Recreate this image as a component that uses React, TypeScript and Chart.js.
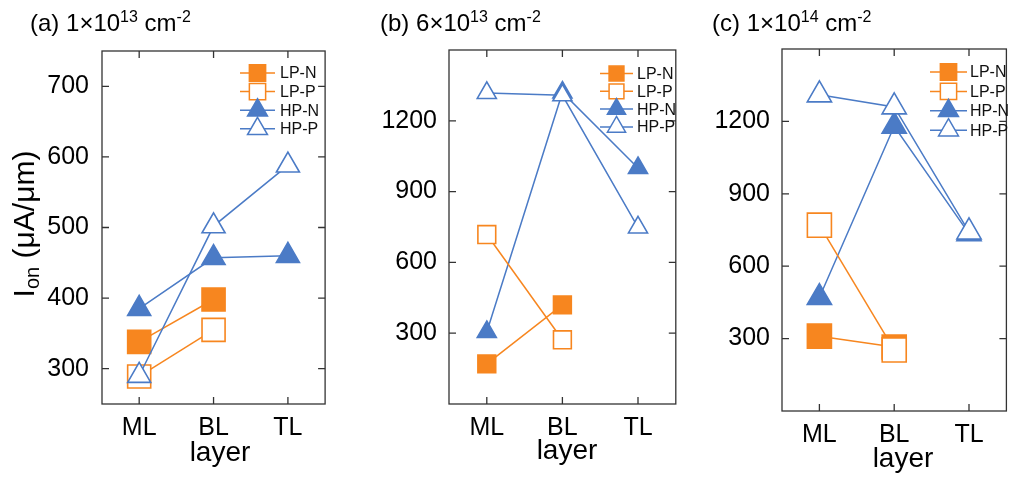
import React, { useEffect, useRef } from 'react';
import { Chart, registerables } from 'chart.js';
import { drawPoint } from 'chart.js/helpers';

Chart.register(...registerables);

// ---------- data ----------
const LAYERS = ['ML', 'BL', 'TL'];
const SERIES = ['LP-N', 'LP-P', 'HP-N', 'HP-P'];

// (a) 1×10^13 cm^-2
const A_LP_N = [338, 398];
const A_LP_P = [289, 355];
const A_HP_N = [385, 457, 460];
const A_HP_P = [290, 502, 588];
const A_TICKS = [300, 400, 500, 600, 700];
const A_RANGE = [250, 750];

// (b) 6×10^13 cm^-2
const B_LP_N = [170, 420];
const B_LP_P = [718, 272];
const B_HP_N = [305, 1320, 1000];
const B_HP_P = [1318, 1308, 748];

// (c) 1×10^14 cm^-2
const C_LP_N = [310, 265];
const C_LP_P = [770, 253];
const C_HP_N = [470, 1180, 735];
const C_HP_P = [1310, 1260, 742];

const BC_TICKS = [300, 600, 900, 1200];
const BC_RANGE = [0, 1500];

// ---------- styles ----------
const FONT = '"Liberation Sans", Arial, Helvetica, sans-serif';
const ORANGE = '#F7861F';
const BLUE = '#4B7BC6';
const FRAME = '#333333';

const STYLE: Record<string, any> = {
  'LP-N': { color: ORANGE, shape: 'rect', filled: true, order: 3 },
  'LP-P': { color: ORANGE, shape: 'rect', filled: false, order: 1 },
  'HP-N': { color: BLUE, shape: 'triangle', filled: true, order: 2 },
  'HP-P': { color: BLUE, shape: 'triangle', filled: false, order: 0 },
};

const PANELS = [
  {
    key: 'a',
    values: [A_LP_N, A_LP_P, A_HP_N, A_HP_P],
    ticks: A_TICKS,
    range: A_RANGE,
    box: { l: 102, t: 43, r: 331, b: 404 },
    rectR: 16.3,
    triR: 13.3,
    yPad: 5,
    legend: { dx: 138, dy0: 22, dy: 18.6, len: 35, gap: 5, rectR: 11.5, triR: 11.5 },
  },
  {
    key: 'b',
    values: [B_LP_N, B_LP_P, B_HP_N, B_HP_P],
    ticks: BC_TICKS,
    range: BC_RANGE,
    box: { l: 449, t: 43, r: 678, b: 404 },
    rectR: 12.6,
    triR: 11,
    yPad: 4,
    legend: { dx: 151, dy0: 23.5, dy: 17.8, len: 33, gap: 4, rectR: 10.5, triR: 10.5 },
  },
  {
    key: 'c',
    values: [C_LP_N, C_LP_P, C_HP_N, C_HP_P],
    ticks: BC_TICKS,
    range: BC_RANGE,
    box: { l: 782, t: 42, r: 1013, b: 411 },
    rectR: 17,
    triR: 14,
    yPad: 4,
    legend: { dx: 148, dy0: 23, dy: 19.4, len: 37, gap: 3, rectR: 11.5, triR: 11.5 },
  },
];

const PAD_L = 75;
const PAD_T = 12;
const PAD_R = 12;
const PAD_B = 50;

const framePlugin = {
  id: 'frame',
  afterDraw(chart: any) {
    const { ctx, chartArea } = chart;
    const { left, top, right, bottom } = chartArea;
    const tl = 7;
    ctx.save();
    ctx.strokeStyle = FRAME;
    ctx.lineWidth = 1.3;
    ctx.strokeRect(left, top, right - left, bottom - top);
    ctx.beginPath();
    const xs = chart.scales.x;
    xs.ticks.forEach((_: any, i: number) => {
      const px = xs.getPixelForTick(i);
      ctx.moveTo(px, bottom);
      ctx.lineTo(px, bottom - tl);
      ctx.moveTo(px, top);
      ctx.lineTo(px, top + tl);
    });
    const ys = chart.scales.y;
    ys.ticks.forEach((t: any) => {
      const py = ys.getPixelForValue(t.value);
      ctx.moveTo(left, py);
      ctx.lineTo(left + tl, py);
      ctx.moveTo(right, py);
      ctx.lineTo(right - tl, py);
    });
    ctx.stroke();
    ctx.restore();
  },
};

const legendPlugin = {
  id: 'seriesLegend',
  afterDraw(chart: any, _args: any, opts: any) {
    const { ctx, chartArea } = chart;
    const x0 = chartArea.left + opts.dx;
    SERIES.forEach((name, i) => {
      const st = STYLE[name];
      const y = chartArea.top + opts.dy0 + i * opts.dy;
      ctx.save();
      ctx.strokeStyle = st.color;
      ctx.lineWidth = 1.5;
      ctx.beginPath();
      ctx.moveTo(x0, y);
      ctx.lineTo(x0 + opts.len, y);
      ctx.stroke();
      ctx.fillStyle = st.filled ? st.color : '#ffffff';
      ctx.strokeStyle = st.color;
      ctx.lineWidth = 1.5;
      drawPoint(
        ctx,
        {
          pointStyle: st.shape,
          radius: st.shape === 'rect' ? opts.rectR : opts.triR,
          rotation: 0,
          borderWidth: 1.5,
        } as any,
        x0 + opts.len / 2,
        y
      );
      ctx.fillStyle = '#111111';
      ctx.font = `16px ${FONT}`;
      ctx.textAlign = 'left';
      ctx.textBaseline = 'middle';
      ctx.fillText(name, x0 + opts.len + opts.gap, y + 1);
      ctx.restore();
    });
  },
};

function Panel({ spec }: { spec: any }) {
  const ref = useRef<HTMLCanvasElement>(null);
  const { box } = spec;
  const w = box.r - box.l + PAD_L + PAD_R;
  const h = box.b - box.t + PAD_T + PAD_B;

  useEffect(() => {
    if (!ref.current) return;
    const datasets = SERIES.map((name, i) => {
      const st = STYLE[name];
      return {
        label: name,
        data: spec.values[i],
        order: st.order,
        borderColor: st.color,
        backgroundColor: st.color,
        borderWidth: 1.5,
        tension: 0,
        fill: false,
        pointStyle: st.shape,
        pointRadius: st.shape === 'rect' ? spec.rectR : spec.triR,
        pointBackgroundColor: st.filled ? st.color : '#ffffff',
        pointBorderColor: st.color,
        pointBorderWidth: 1.6,
        clip: false,
      };
    });
    const chart = new Chart(ref.current, {
      type: 'line',
      data: { labels: LAYERS, datasets },
      options: {
        responsive: false,
        maintainAspectRatio: false,
        animation: false,
        events: [],
        layout: { padding: { left: 0, top: PAD_T, right: PAD_R, bottom: 0 } },
        plugins: {
          legend: { display: false },
          tooltip: { enabled: false },
          seriesLegend: spec.legend,
        } as any,
        scales: {
          x: {
            type: 'category',
            offset: true,
            grid: { display: false },
            border: { display: false },
            ticks: {
              font: { family: FONT, size: 25 },
              color: '#000',
              padding: 1,
              maxRotation: 0,
              autoSkip: false,
            },
            afterFit: (s: any) => {
              s.height = PAD_B;
            },
          },
          y: {
            type: 'linear',
            min: spec.range[0],
            max: spec.range[1],
            grid: { display: false },
            border: { display: false },
            ticks: {
              font: { family: FONT, size: 25 },
              color: '#000',
              padding: spec.yPad,
              callback: (v: any) => String(v),
            },
            afterBuildTicks: (s: any) => {
              s.ticks = spec.ticks.map((v: number) => ({ value: v }));
            },
            afterFit: (s: any) => {
              s.width = PAD_L;
            },
          },
        } as any,
      },
      plugins: [framePlugin, legendPlugin],
    } as any);
    return () => chart.destroy();
  }, []);

  return (
    <canvas
      ref={ref}
      width={w}
      height={h}
      style={{ position: 'absolute', left: box.l - PAD_L, top: box.t - PAD_T, width: w, height: h }}
    />
  );
}

const supStyle: React.CSSProperties = { fontSize: 16, lineHeight: 0, verticalAlign: '9px' };

function Title({ left, label, mant, exp }: { left: number; label: string; mant: string; exp: string }) {
  return (
    <div
      style={{
        position: 'absolute',
        left,
        top: 11,
        fontSize: 24,
        lineHeight: '24px',
        fontFamily: FONT,
        whiteSpace: 'nowrap',
        color: '#000',
      }}
    >
      ({label}) {mant}×10<sup style={supStyle}>{exp}</sup> cm<sup style={supStyle}>-2</sup>
    </div>
  );
}

function XTitle({ cx, top }: { cx: number; top: number }) {
  return (
    <div
      style={{
        position: 'absolute',
        left: cx - 100,
        top,
        width: 200,
        textAlign: 'center',
        fontSize: 28,
        lineHeight: '28px',
        fontFamily: FONT,
        color: '#000',
      }}
    >
      layer
    </div>
  );
}

export default function App() {
  const F = 30;
  return (
    <div
      style={{
        position: 'absolute',
        left: 0,
        top: 0,
        width: 1011,
        height: 477,
        overflow: 'hidden',
        background: '#fff',
      }}
    >
      {PANELS.map((p) => (
        <Panel key={p.key} spec={p} />
      ))}
      <Title left={30} label="a" mant="1" exp="13" />
      <Title left={380} label="b" mant="6" exp="13" />
      <Title left={712} label="c" mant="1" exp="14" />
      <XTitle cx={220} top={438} />
      <XTitle cx={567} top={436} />
      <XTitle cx={903} top={444} />
      <div
        style={{
          position: 'absolute',
          left: 23.5 - 100,
          top: 223.5 - F / 2,
          width: 200,
          height: F,
          lineHeight: `${F}px`,
          fontSize: F,
          fontFamily: FONT,
          textAlign: 'center',
          whiteSpace: 'nowrap',
          transform: 'rotate(-90deg)',
          color: '#000',
        }}
      >
        I<sub style={{ fontSize: 20, lineHeight: 0, verticalAlign: '-5px' }}>on</sub> (μA/μm)
      </div>
    </div>
  );
}
